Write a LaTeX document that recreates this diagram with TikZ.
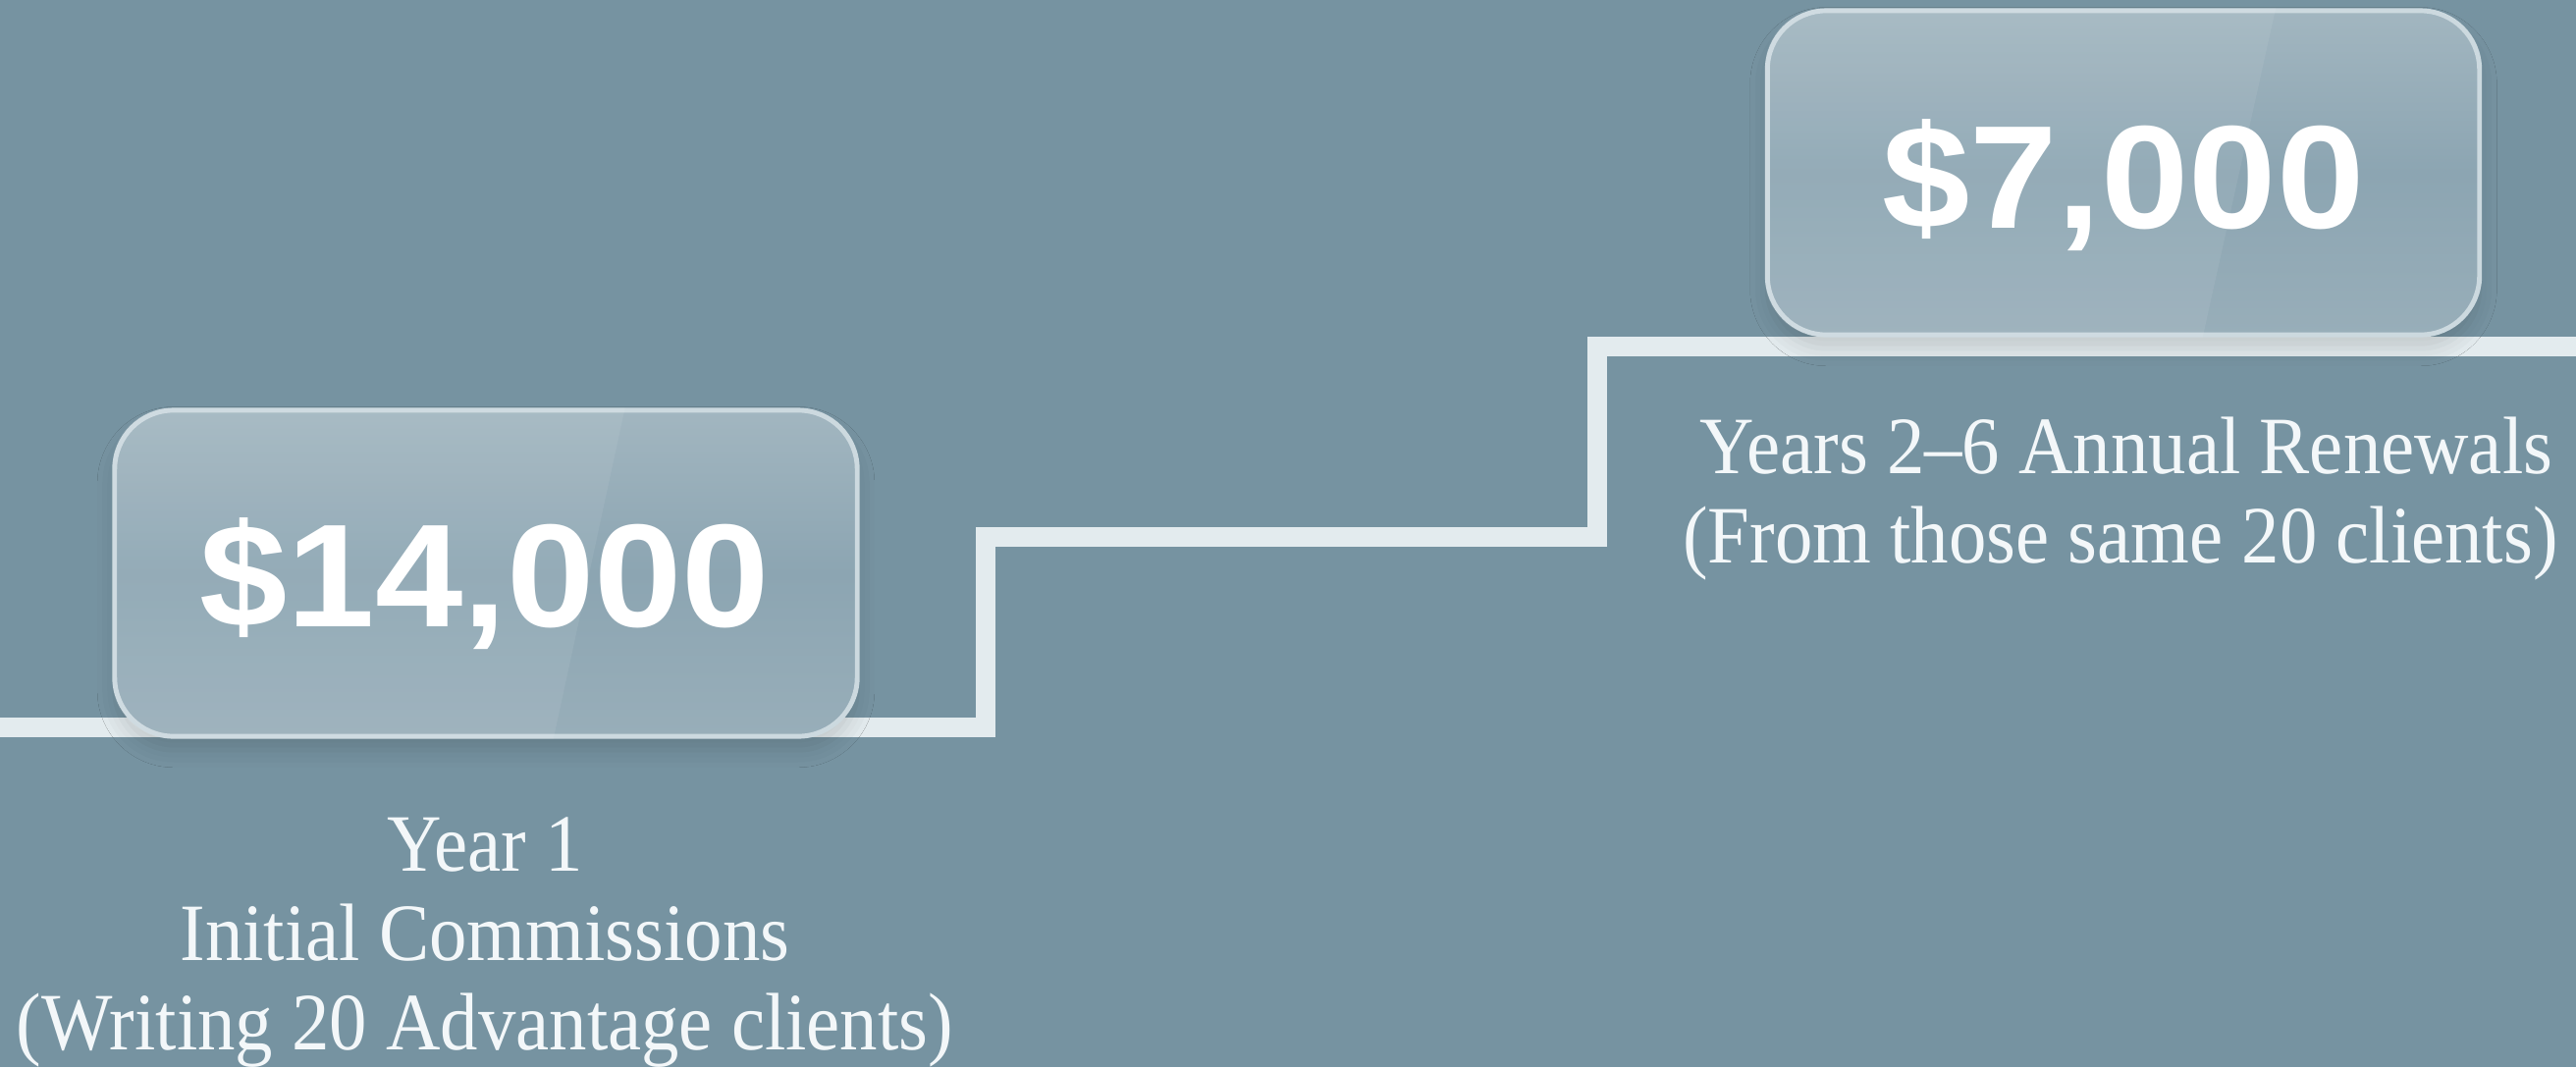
\documentclass[tikz,border=0pt]{standalone}
\usepackage{fontspec}
\usepackage{graphicx}
\setmainfont{Liberation Serif}
\newfontfamily\numfont{Liberation Sans}
\usetikzlibrary{shadows.blur}
\definecolor{bg}{HTML}{7693A1}
\definecolor{stair}{HTML}{E3EBEE}
\definecolor{glassT}{HTML}{A2B6C0}
\definecolor{glassM}{HTML}{8CA5B2}
\definecolor{glassB}{HTML}{98AEB9}
\definecolor{glassEdge}{HTML}{CCD9DF}
\definecolor{txt}{HTML}{F3F7F9}
\newcommand\lbltext[1]{\scalebox{0.925}[1]{#1}}
\newcommand\numtext[1]{\scalebox{1.075}[1]{#1}}
\begin{document}
\begin{tikzpicture}[x=0.01cm,y=-0.01cm,
  stairline/.style={draw=stair, line width=0.2cm, line join=miter, line cap=butt},
  glass/.style={rounded corners=0.6cm, draw=glassEdge, line width=1.4pt,
    top color=glassT, bottom color=glassB, middle color=glassM,
    blur shadow={shadow xshift=0pt, shadow yshift=-4pt, shadow blur radius=5pt, shadow opacity=14}},
  num/.style={anchor=base, inner sep=0pt, text=white, font=\numfont\bfseries\fontsize{42.5}{50}\selectfont},
  lbl/.style={anchor=base, inner sep=0pt, text=txt, font=\fontsize{23.6}{28}\selectfont}
]
\useasboundingbox (0,0) rectangle (2624,1087);
\fill[bg] (0,0) rectangle (2624,1087);
\clip (0,0) rectangle (2624,1087);

% staircase
\coordinate (s0) at (-40,741);
\coordinate (s1) at (1004,741);
\coordinate (s2) at (1004,547);
\coordinate (s3) at (1627,547);
\coordinate (s4) at (1627,353);
\coordinate (s5) at (2670,353);
\draw[stairline] (s0) -- (s1) -- (s2) -- (s3) -- (s4) -- (s5);

% glass boxes
\node[glass, minimum width=7.56cm, minimum height=3.32cm] (box1) at (495,584) {};
\node[glass, minimum width=7.25cm, minimum height=3.30cm] (box2) at (2163,176) {};

% highlights
\begin{scope}
  \clip[rounded corners=0.6cm] (box1.south west) rectangle (box1.north east);
  \fill[white, opacity=0.07] (100,400) -- (640,400) -- (560,770) -- (100,770) -- cycle;
\end{scope}
\begin{scope}
  \clip[rounded corners=0.6cm] (box2.south west) rectangle (box2.north east);
  \fill[white, opacity=0.07] (1780,0) -- (2320,0) -- (2240,360) -- (1780,360) -- cycle;
\end{scope}

% numbers
\node[num] (n1) at (494,638) {\numtext{\$14,000}};
\node[num] (n2) at (2163,232) {\numtext{\$7,000}};

% labels
\node[lbl] (y1a) at (494,887) {\lbltext{Year 1}};
\node[lbl] (y1b) at (494,978) {\lbltext{Initial Commissions}};
\node[lbl] (y1c) at (494,1069) {\lbltext{(Writing 20 Advantage clients)}};
\node[lbl] (r1a) at (2166,482) {\lbltext{Years 2–6 Annual Renewals}};
\node[lbl] (r1b) at (2160,573) {\lbltext{(From those same 20 clients)}};
\end{tikzpicture}
\end{document}
